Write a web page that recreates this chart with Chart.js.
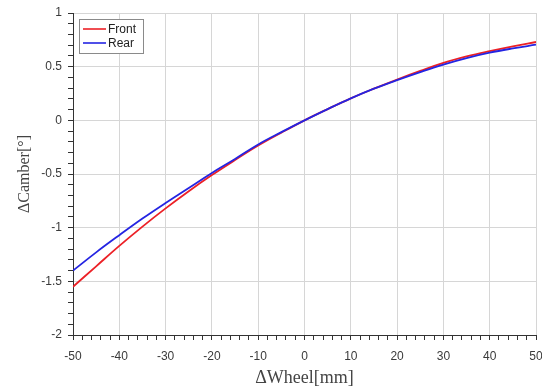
<!DOCTYPE html>
<html>
<head>
<meta charset="utf-8">
<script src="https://cdn.jsdelivr.net/npm/chart.js@4"></script>
<style>
  html, body { margin: 0; padding: 0; background: #fff; }
  #wrap { width: 542px; height: 389px; }
</style>
</head>
<body>
<div id="wrap"><canvas id="camberChart" width="542" height="389"></canvas></div>
<script>
// wheel travel [mm]
const wheelTravel = [-50, -45, -40, -35, -30, -25, -20, -15, -10, -5, 0, 5, 10, 15, 20, 25, 30, 35, 40, 45, 50];
// camber change [deg]
const frontCamber = [-1.55, -1.36, -1.17, -0.99, -0.82, -0.66, -0.51, -0.37, -0.235, -0.115, 0, 0.105, 0.205, 0.295, 0.38, 0.46, 0.535, 0.595, 0.645, 0.69, 0.73];
const rearCamber = [-1.40, -1.23, -1.07, -0.915, -0.77, -0.63, -0.49, -0.36, -0.225, -0.11, 0, 0.105, 0.205, 0.295, 0.375, 0.45, 0.52, 0.58, 0.63, 0.67, 0.705];

const seriesNames = ['Front', 'Rear'];
const seriesColors = ['rgb(236, 32, 38)', 'rgb(36, 36, 226)'];

function toPoints(xs, ys) {
    return xs.map((x, i) => ({ x: x, y: ys[i] }));
}

function isMultiple(v, step) {
    const r = v / step;
    return Math.abs(r - Math.round(r)) < 1e-6;
}

const gridGray = '#d6d6d6';
const axisDark = '#333';

// boxed legend drawn in the top-left corner of the plot
const boxedLegend = {
    id: 'boxedLegend',
    afterDatasetsDraw(chart) {
        const ctx = chart.ctx;
        const area = chart.chartArea;
        const x = area.left + 6, y = area.top + 6, w = 64, h = 34;
        ctx.save();
        ctx.fillStyle = '#fff';
        ctx.fillRect(x, y, w, h);
        ctx.strokeStyle = '#8a8a8a';
        ctx.lineWidth = 1;
        ctx.strokeRect(x + 0.5, y + 0.5, w, h);
        ctx.font = '12px "Liberation Sans", Arial, sans-serif';
        ctx.textBaseline = 'middle';
        seriesNames.forEach((name, i) => {
            const ly = y + 10 + i * 14;
            ctx.strokeStyle = seriesColors[i];
            ctx.lineWidth = 1.6;
            ctx.beginPath();
            ctx.moveTo(x + 4, ly);
            ctx.lineTo(x + 27, ly);
            ctx.stroke();
            ctx.fillStyle = '#222';
            ctx.fillText(name, x + 29, ly + 1);
        });
        ctx.restore();
    }
};

new Chart(document.getElementById('camberChart').getContext('2d'), {
    type: 'line',
    data: {
        datasets: [
            {
                label: seriesNames[0],
                data: toPoints(wheelTravel, frontCamber),
                borderColor: seriesColors[0],
                borderWidth: 1.8,
                pointRadius: 0,
                tension: 0.4,
                order: 1
            },
            {
                label: seriesNames[1],
                data: toPoints(wheelTravel, rearCamber),
                borderColor: seriesColors[1],
                borderWidth: 1.8,
                pointRadius: 0,
                tension: 0.4,
                order: 0
            }
        ]
    },
    options: {
        responsive: false,
        animation: false,
        layout: { padding: { left: 0, top: 13, right: 6, bottom: 0 } },
        plugins: {
            legend: { display: false },
            tooltip: { enabled: false }
        },
        scales: {
            x: {
                type: 'linear',
                min: -50,
                max: 50,
                afterFit(scale) {
                    scale.height = 54;
                    scale.paddingLeft = 0;
                    scale.paddingRight = 0;
                },
                ticks: {
                    stepSize: 2,
                    autoSkip: false,
                    maxRotation: 0,
                    padding: 9,
                    color: '#3a3a3a',
                    font: { family: '"Liberation Sans", Arial, sans-serif', size: 12 },
                    callback: (v) => isMultiple(v, 10) ? String(v) : ''
                },
                grid: {
                    color: (c) => isMultiple(c.tick.value, 10) ? gridGray : 'rgba(0,0,0,0)',
                    tickColor: axisDark,
                    tickLength: 5
                },
                border: { color: axisDark, width: 1 },
                title: {
                    display: true,
                    text: 'ΔWheel[mm]',
                    color: '#444',
                    font: { family: '"Liberation Serif", "DejaVu Serif", serif', size: 18 },
                    padding: { top: 0, bottom: 0 }
                }
            },
            y: {
                type: 'linear',
                min: -2,
                max: 1,
                afterFit(scale) {
                    scale.width = 73;
                    scale.paddingTop = 0;
                    scale.paddingBottom = 0;
                },
                ticks: {
                    stepSize: 0.1,
                    autoSkip: false,
                    padding: 6,
                    color: '#3a3a3a',
                    font: { family: '"Liberation Sans", Arial, sans-serif', size: 12 },
                    callback: (v) => isMultiple(v, 0.5) ? String(Math.round(v * 10) / 10) : ''
                },
                grid: {
                    color: (c) => isMultiple(c.tick.value, 0.5) ? gridGray : 'rgba(0,0,0,0)',
                    tickColor: axisDark,
                    tickLength: 5
                },
                border: { color: axisDark, width: 1 },
                title: {
                    display: true,
                    text: 'ΔCamber[°]',
                    color: '#444',
                    font: { family: '"Liberation Serif", "DejaVu Serif", serif', size: 16 },
                    padding: { top: 15, bottom: 0 }
                }
            }
        }
    },
    plugins: [boxedLegend]
});
</script>
</body>
</html>
